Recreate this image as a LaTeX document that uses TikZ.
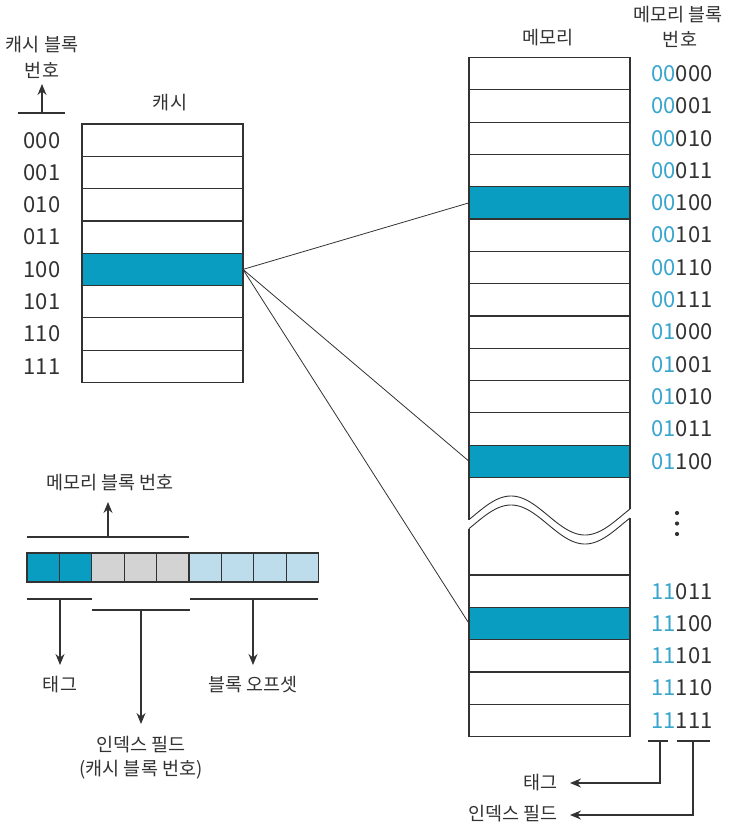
\documentclass[tikz,border=0pt]{standalone}
\usepackage{fontspec}
\setmainfont{Noto Sans CJK KR}
\usetikzlibrary{arrows.meta}
\definecolor{hil}{RGB}{10,157,194}
\definecolor{cyandig}{RGB}{55,165,205}
\definecolor{lblue}{RGB}{190,221,236}
\definecolor{lgray}{RGB}{211,211,211}
\definecolor{ink}{RGB}{50,50,50}
\tikzset{
  rowbox/.style={draw=ink, line width=1.2pt, fill=white, minimum width=161pt, minimum height=32.3pt, inner sep=0, outer sep=0},
  hirow/.style={rowbox, fill=hil},
  fcell/.style={draw=ink, line width=1.2pt, minimum width=32.4pt, minimum height=29pt, inner sep=0, outer sep=0},
  lbl/.style={font=\fontsize{18.5}{21}\selectfont, text=ink, inner sep=0},
  num/.style={font=\fontsize{22}{24}\selectfont, text=ink, inner sep=0},
  arr/.style={-{Stealth[length=11pt,width=9pt]}, line width=1.2pt, draw=ink},
  ln/.style={line width=1.2pt, draw=ink},
  conn/.style={line width=0.8pt, draw=ink}
}
\begin{document}
\begin{tikzpicture}[x=1pt,y=-1pt]
\useasboundingbox (0,0) rectangle (728,827);
% ---------- cache ----------
\node[lbl] (cachelbl) at (170,103) {캐시};
\foreach \i/\b in {0/000,1/001,2/010,3/011,4/100,5/101,6/110,7/111}{
  \pgfmathsetmacro\yy{140.2+32.3*\i}
  \ifnum\i=4
    \node[hirow] (c\i) at (162.5,\yy) {};
  \else
    \node[rowbox] (c\i) at (162.5,\yy) {};
  \fi
  \node[num] (cl\i) at (42,\yy) {\b};
}
\node[lbl] (cbn1) at (42,45) {캐시 블록};
\node[lbl] (cbn2) at (42,70) {번호};
\coordinate (cbl) at (18,113);
\coordinate (cbr) at (65,113);
\coordinate (cbm) at (42,113);
\coordinate (cbt) at (42,84);
\draw[ln] (cbl) -- (cbr);
\draw[arr] (cbm) -- (cbt);
% ---------- memory ----------
\node[lbl] (memlbl) at (548,38) {메모리};
\node[lbl] (mbn1) at (678,15) {메모리 블록};
\node[lbl] (mbn2) at (680,39) {번호};
\foreach \i/\a/\b in {0/00/000,1/00/001,2/00/010,3/00/011,4/00/100,5/00/101,6/00/110,7/00/111,8/01/000,9/01/001,10/01/010,11/01/011,12/01/100}{
  \pgfmathsetmacro\yy{73.65+32.3*\i}
  \ifnum\i=4
    \node[hirow] (m\i) at (549.5,\yy) {};
  \else\ifnum\i=12
    \node[hirow] (m\i) at (549.5,\yy) {};
  \else
    \node[rowbox] (m\i) at (549.5,\yy) {};
  \fi\fi
  \node[num] (ml\i) at (682,\yy) {\textcolor{cyandig}{\a}\b};
}
\foreach \i/\a/\b in {0/11/011,1/11/100,2/11/101,3/11/110,4/11/111}{
  \pgfmathsetmacro\yy{591.15+32.3*\i}
  \ifnum\i=1
    \node[hirow] (n\i) at (549.5,\yy) {};
  \else
    \node[rowbox] (n\i) at (549.5,\yy) {};
  \fi
  \node[num] (nl\i) at (682,\yy) {\textcolor{cyandig}{\a}\b};
}
% break region
\draw[ln] (469,477.5) -- (469,519.6);
\draw[ln] (469,528.6) -- (469,575);
\draw[ln] (630,477.5) -- (630,509);
\draw[ln] (630,518) -- (630,575);
\draw[line width=0.9pt, draw=ink] plot[domain=469:630, samples=80, smooth] (\x,{515.5-19.5*sin((\x-474)/148*360)});
\draw[line width=0.9pt, draw=ink] plot[domain=469:630, samples=80, smooth] (\x,{524.5-19.5*sin((\x-474)/148*360)});
% vertical dots
\foreach \d/\yy in {1/513,2/523.5,3/534}{
  \fill[ink] (677,\yy) circle (2.1);
}
% connectors
\draw[conn] (c4.east) -- (m4.west);
\draw[conn] (c4.east) -- (m12.west);
\draw[conn] (c4.east) -- (n1.west);
% bottom-right brackets
\coordinate (tbl) at (648,741);
\coordinate (tbr) at (668,741);
\coordinate (tbm) at (660,741);
\coordinate (tbc) at (660,783);
\coordinate (tbe) at (570,783);
\coordinate (ibl) at (677,741);
\coordinate (ibr) at (710,741);
\coordinate (ibm) at (693,741);
\coordinate (ibc) at (693,815);
\coordinate (ibe) at (570,815);
\draw[ln] (tbl) -- (tbr);
\draw[ln] (ibl) -- (ibr);
\draw[arr] (tbm) -- (tbc) -- (tbe);
\draw[arr] (ibm) -- (ibc) -- (ibe);
\node[lbl, anchor=east] (tagr) at (558,783) {태그};
\node[lbl, anchor=east] (idxr) at (558,814) {인덱스 필드};
% ---------- address field ----------
\foreach \i/\c in {0/hil,1/hil,2/lgray,3/lgray,4/lgray,5/lblue,6/lblue,7/lblue,8/lblue}{
  \pgfmathsetmacro\xx{43.2+32.4*\i}
  \node[fcell, fill=\c] (f\i) at (\xx,567.5) {};
}
\coordinate (tl) at (27,537);
\coordinate (tr) at (189,537);
\coordinate (tm) at (108,537);
\coordinate (tt) at (108,502);
\draw[ln] (tl) -- (tr);
\draw[arr] (tm) -- (tt);
\node[lbl] (mbnlbl) at (110,483) {메모리 블록 번호};
\coordinate (bl1) at (27,599);
\coordinate (bl2) at (92,599);
\coordinate (bi1) at (92,610);
\coordinate (bi2) at (190,610);
\coordinate (bo1) at (190,599);
\coordinate (bo2) at (318,599);
\draw[ln] (bl1) -- (bl2);
\draw[ln] (bi1) -- (bi2);
\draw[ln] (bo1) -- (bo2);
\coordinate (ta) at (60,599);
\coordinate (tb) at (60,665);
\coordinate (ia) at (141,610);
\coordinate (ib) at (141,724);
\coordinate (oa) at (253,599);
\coordinate (ob) at (253,665);
\draw[arr] (ta) -- (tb);
\draw[arr] (ia) -- (ib);
\draw[arr] (oa) -- (ob);
\node[lbl] (taglbl) at (60,685) {태그};
\node[lbl] (offlbl) at (253,685) {블록 오프셋};
\node[lbl] (idxl1) at (141,745) {인덱스 필드};
\node[lbl] (idxl2) at (141,770) {(캐시 블록 번호)};
\end{tikzpicture}
\end{document}
